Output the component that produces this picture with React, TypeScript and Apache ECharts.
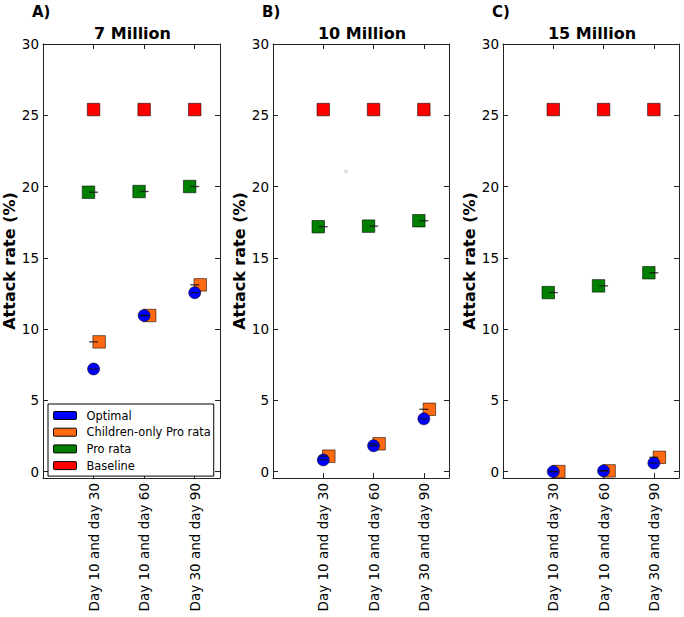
import React, { useEffect, useRef } from "react";
import * as echarts from "echarts";

const xLabels = ["Day 10 and day 30", "Day 10 and day 60", "Day 30 and day 90"];
const panelTitles = ["7 Million", "10 Million", "15 Million"];
const panelTags = ["A)", "B)", "C)"];
const seriesNames = ["Optimal", "Children-only Pro rata", "Pro rata", "Baseline"];

// 7 Million
const optimal7 = [7.2, 10.95, 12.55];
const children7 = [9.1, 10.95, 13.1];
const prorata7 = [19.6, 19.65, 20.0];
const baseline7 = [25.4, 25.4, 25.4];
// 10 Million
const optimal10 = [0.82, 1.81, 3.7];
const children10 = [1.08, 1.95, 4.37];
const prorata10 = [17.18, 17.22, 17.6];
const baseline10 = [25.4, 25.4, 25.4];
// 15 Million
const optimal15 = [0.0, 0.05, 0.6];
const children15 = [0.0, 0.05, 1.0];
const prorata15 = [12.56, 13.03, 13.95];
const baseline15 = [25.4, 25.4, 25.4];
// faint stray point seen in panel B
const strayPointB = [[1.45, 21.05]];

const panels = [
  [optimal7, children7, prorata7, baseline7],
  [optimal10, children10, prorata10, baseline10],
  [optimal15, children15, prorata15, baseline15],
];

const colors = ["#0000ff", "#ff6a10", "#007f00", "#ff0000"];
const offsets = [0, 0.11, -0.1, 0];
const symbols = ["circle", "rect", "rect", "rect"];
const zs = [5, 4, 3, 2];
const FONT = "DejaVu Sans";
const legendIcon = "path://M1,0H22A1,1,0,0,1,23,1V7A1,1,0,0,1,22,8H1A1,1,0,0,1,0,7V1A1,1,0,0,1,1,0Z";

export default function App() {
  const ref = useRef<HTMLDivElement>(null);
  useEffect(() => {
    if (!ref.current) return;
    const chart = echarts.init(ref.current, undefined, { renderer: "svg" });
    const gridLefts = [43, 273, 503];
    const gridWidths = [177, 176, 176];
    const grid = gridLefts.map((l, i) => ({ left: l, top: 44, width: gridWidths[i], height: 434 }));
    const axisLine = { show: true, onZero: false, lineStyle: { color: "#222", width: 1 } };
    const tick = { show: true, inside: true, length: 5, lineStyle: { color: "#222" } };
    const xAxis: any[] = [];
    const yAxis: any[] = [];
    for (let i = 0; i < 3; i++) {
      xAxis.push({
        type: "value", gridIndex: i, min: 0, max: 3.5, interval: 1, position: "bottom",
        axisLine, axisTick: tick, splitLine: { show: false },
        axisLabel: {
          rotate: 90, margin: 5, fontSize: 13.5, color: "#000", fontFamily: FONT,
          formatter: (v: number) => xLabels[Math.round(v) - 1] && Math.abs(v - Math.round(v)) < 1e-6 ? xLabels[Math.round(v) - 1] : "",
        },
      });
      xAxis.push({
        type: "value", gridIndex: i, min: 0, max: 3.5, interval: 1, position: "top",
        axisLine, axisTick: tick, splitLine: { show: false }, axisLabel: { show: false },
      });
      yAxis.push({
        type: "value", gridIndex: i, min: -0.45, max: 30, splitNumber: 6, position: "left",
        axisLine, axisTick: tick, splitLine: { show: false },
        name: "Attack rate (%)", nameLocation: "middle", nameGap: 23,
        nameTextStyle: { fontSize: 16, fontWeight: "bold", color: "#000", fontFamily: FONT },
        axisLabel: {
          margin: 4, fontSize: 13.5, color: "#000", fontFamily: FONT,
          formatter: (v: number) => (Math.abs(v - Math.round(v / 5) * 5) < 1e-6 ? String(Math.round(v)) : ""),
        },
      });
      yAxis.push({
        type: "value", gridIndex: i, min: -0.45, max: 30, splitNumber: 6, position: "right",
        axisLine, axisTick: tick, splitLine: { show: false }, axisLabel: { show: false },
      });
    }
    const series: any[] = [];
    panels.forEach((vals, i) => {
      [3, 2, 1, 0].forEach((s) => {
        series.push({
          type: "scatter", name: seriesNames[s], xAxisIndex: 2 * i, yAxisIndex: 2 * i,
          data: vals[s].map((v, k) => [k + 1 + offsets[s], v]),
          symbol: symbols[s], symbolSize: s === 0 ? 12 : 12.5, z: zs[s], silent: true,
          itemStyle: { color: colors[s], borderColor: "rgba(0,0,0,0.55)", borderWidth: 1, opacity: 1 },
        });
      });
      const dashData: number[][] = [];
      [0, 1, 2].forEach((s) => vals[s].forEach((v, k) => dashData.push([k + 1, v])));
      series.push({
        type: "scatter", name: "errbar", xAxisIndex: 2 * i, yAxisIndex: 2 * i, data: dashData,
        symbol: "rect", symbolSize: [9, 1.3], z: 6, silent: true, itemStyle: { color: "#111" },
      });
      if (i === 1) {
        series.push({
          type: "scatter", name: "stray", xAxisIndex: 2, yAxisIndex: 2, data: strayPointB,
          symbolSize: 4, z: 1, silent: true, itemStyle: { color: "#d8d8d8" },
        });
      }
    });
    const graphic: any[] = [];
    panelTitles.forEach((t, i) => {
      graphic.push({
        type: "text", x: gridLefts[i] + gridWidths[i] / 2 + 1, y: 33.5,
        style: { text: t, align: "center", verticalAlign: "middle", fontSize: 16, fontWeight: "bold", fontFamily: FONT, fill: "#000" },
      });
      graphic.push({
        type: "text", x: gridLefts[i] - 11, y: 12,
        style: { text: panelTags[i], align: "left", verticalAlign: "middle", fontSize: 15, fontWeight: "bold", fontFamily: FONT, fill: "#000" },
      });
    });
    chart.setOption({
      animation: false,
      backgroundColor: "#fff",
      grid,
      xAxis,
      yAxis,
      series,
      graphic,
      legend: {
        data: seriesNames,
        orient: "vertical", left: 48, top: 404,
        icon: legendIcon, itemWidth: 23, itemHeight: 8, itemGap: 3.7,
        padding: [5, 3, 4, 5],
        backgroundColor: "#fff", borderColor: "#000", borderWidth: 1, borderRadius: 0,
        itemStyle: { borderColor: "#000", borderWidth: 1 },
        textStyle: { fontSize: 11.4, fontFamily: FONT, color: "#000", lineHeight: 13, padding: [0, 0, 0, 5] },
        selectedMode: false,
      },
    });
    return () => chart.dispose();
  }, []);
  return <div ref={ref} style={{ width: 684, height: 617, position: "absolute", left: 0, top: 0 }} />;
}
